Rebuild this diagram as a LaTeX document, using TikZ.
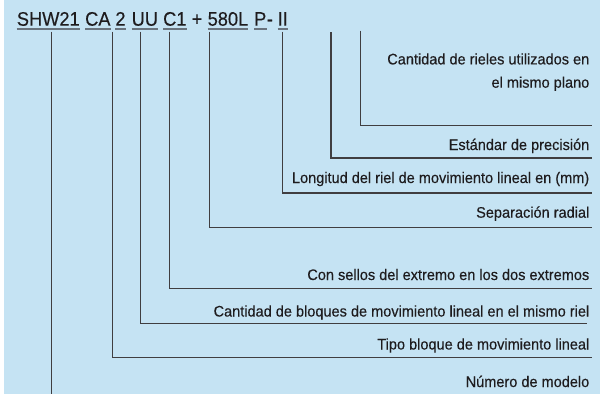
\documentclass[tikz,border=0pt]{standalone}
\usepackage{fontspec}
\setmainfont{Liberation Sans}
\newfontfamily\narrowsans[FakeStretch=0.95,FakeBold=0.25]{Liberation Sans}
\newfontfamily\codesans[FakeStretch=0.93,FakeBold=0.25]{Liberation Sans}
\definecolor{bgblue}{RGB}{197,227,243}
\definecolor{ink}{RGB}{30,28,30}
\definecolor{ulgray}{RGB}{105,115,125}
\begin{document}
\begin{tikzpicture}[x=1pt,y=-1pt,
  code/.style={inner sep=0pt,anchor=base west,text=ink,font=\codesans\fontsize{19.6}{20}\selectfont},
  lbl/.style={inner sep=0pt,anchor=base east,text=ink,align=right,font=\narrowsans\fontsize{15.3}{23.3}\selectfont},
  uline/.style={draw=ulgray,line width=1.6pt},
  conn/.style={draw=ink!85,line width=1.2pt}]
\useasboundingbox (0,0) rectangle (600,394);
\fill[bgblue] (4,0) rectangle (600,394);
% code segments
\node[code] (s1) at (16.7,25.7) {SHW21};
\node[code] (s2) at (85,25.7) {CA};
\node[code] (s3) at (115.2,25.7) {2};
\node[code] (s4) at (131.5,25.7) {UU};
\node[code] (s5) at (163,25.7) {C1};
\node[code] (s6) at (191.5,25.7) {+};
\node[code] (s7) at (207.5,25.7) {580L};
\node[code] (s8) at (254,25.7) {P};
\node[code] (s8b) at (s8.base east) {-};
\node[code] (s9) at (277.5,25.7) {II};
\foreach \s in {s1,s2,s3,s4,s5,s7,s8,s9}
  \draw[uline] ([yshift=-3.4pt]\s.base west) -- ([yshift=-3.4pt]\s.base east);
% labels
\node[lbl] (l1) at (589.5,87.7) {Cantidad de rieles utilizados en\\el mismo plano};
\node[lbl] (l2) at (589.5,150) {Estándar de precisión};
\node[lbl] (l3) at (589.5,183) {Longitud del riel de movimiento lineal en (mm)};
\node[lbl] (l4) at (589.5,217.7) {Separación radial};
\node[lbl] (l5) at (589.5,280) {Con sellos del extremo en los dos extremos};
\node[lbl] (l6) at (589.5,316.5) {Cantidad de bloques de movimiento lineal en el mismo riel};
\node[lbl] (l7) at (589.5,349.5) {Tipo bloque de movimiento lineal};
\node[lbl] (l8) at (589.5,387) {Número de modelo};
% connector tops
\coordinate (t1) at (51.7,31.5);
\coordinate (t2) at (112.7,31.5);
\coordinate (t3) at (140.7,31.5);
\coordinate (t4) at (169.3,31.5);
\coordinate (t5) at (209.3,31.5);
\coordinate (t6) at (282.5,31.5);
\coordinate (t7) at (331,32);
\coordinate (t8) at (360.7,30.5);
% connector ends
\coordinate (e1) at (51.7,394);
\coordinate (e2) at (592,357.5);
\coordinate (e3) at (587,323.3);
\coordinate (e4) at (592,288.3);
\coordinate (e5) at (592,227.3);
\coordinate (e6) at (592,193);
\coordinate (e7) at (592,158);
\coordinate (e8) at (592,125.3);
\draw[conn] (t1) -- (e1);
\foreach \i in {2,...,8}
  \draw[conn] (t\i) |- (e\i);
\end{tikzpicture}
\end{document}
